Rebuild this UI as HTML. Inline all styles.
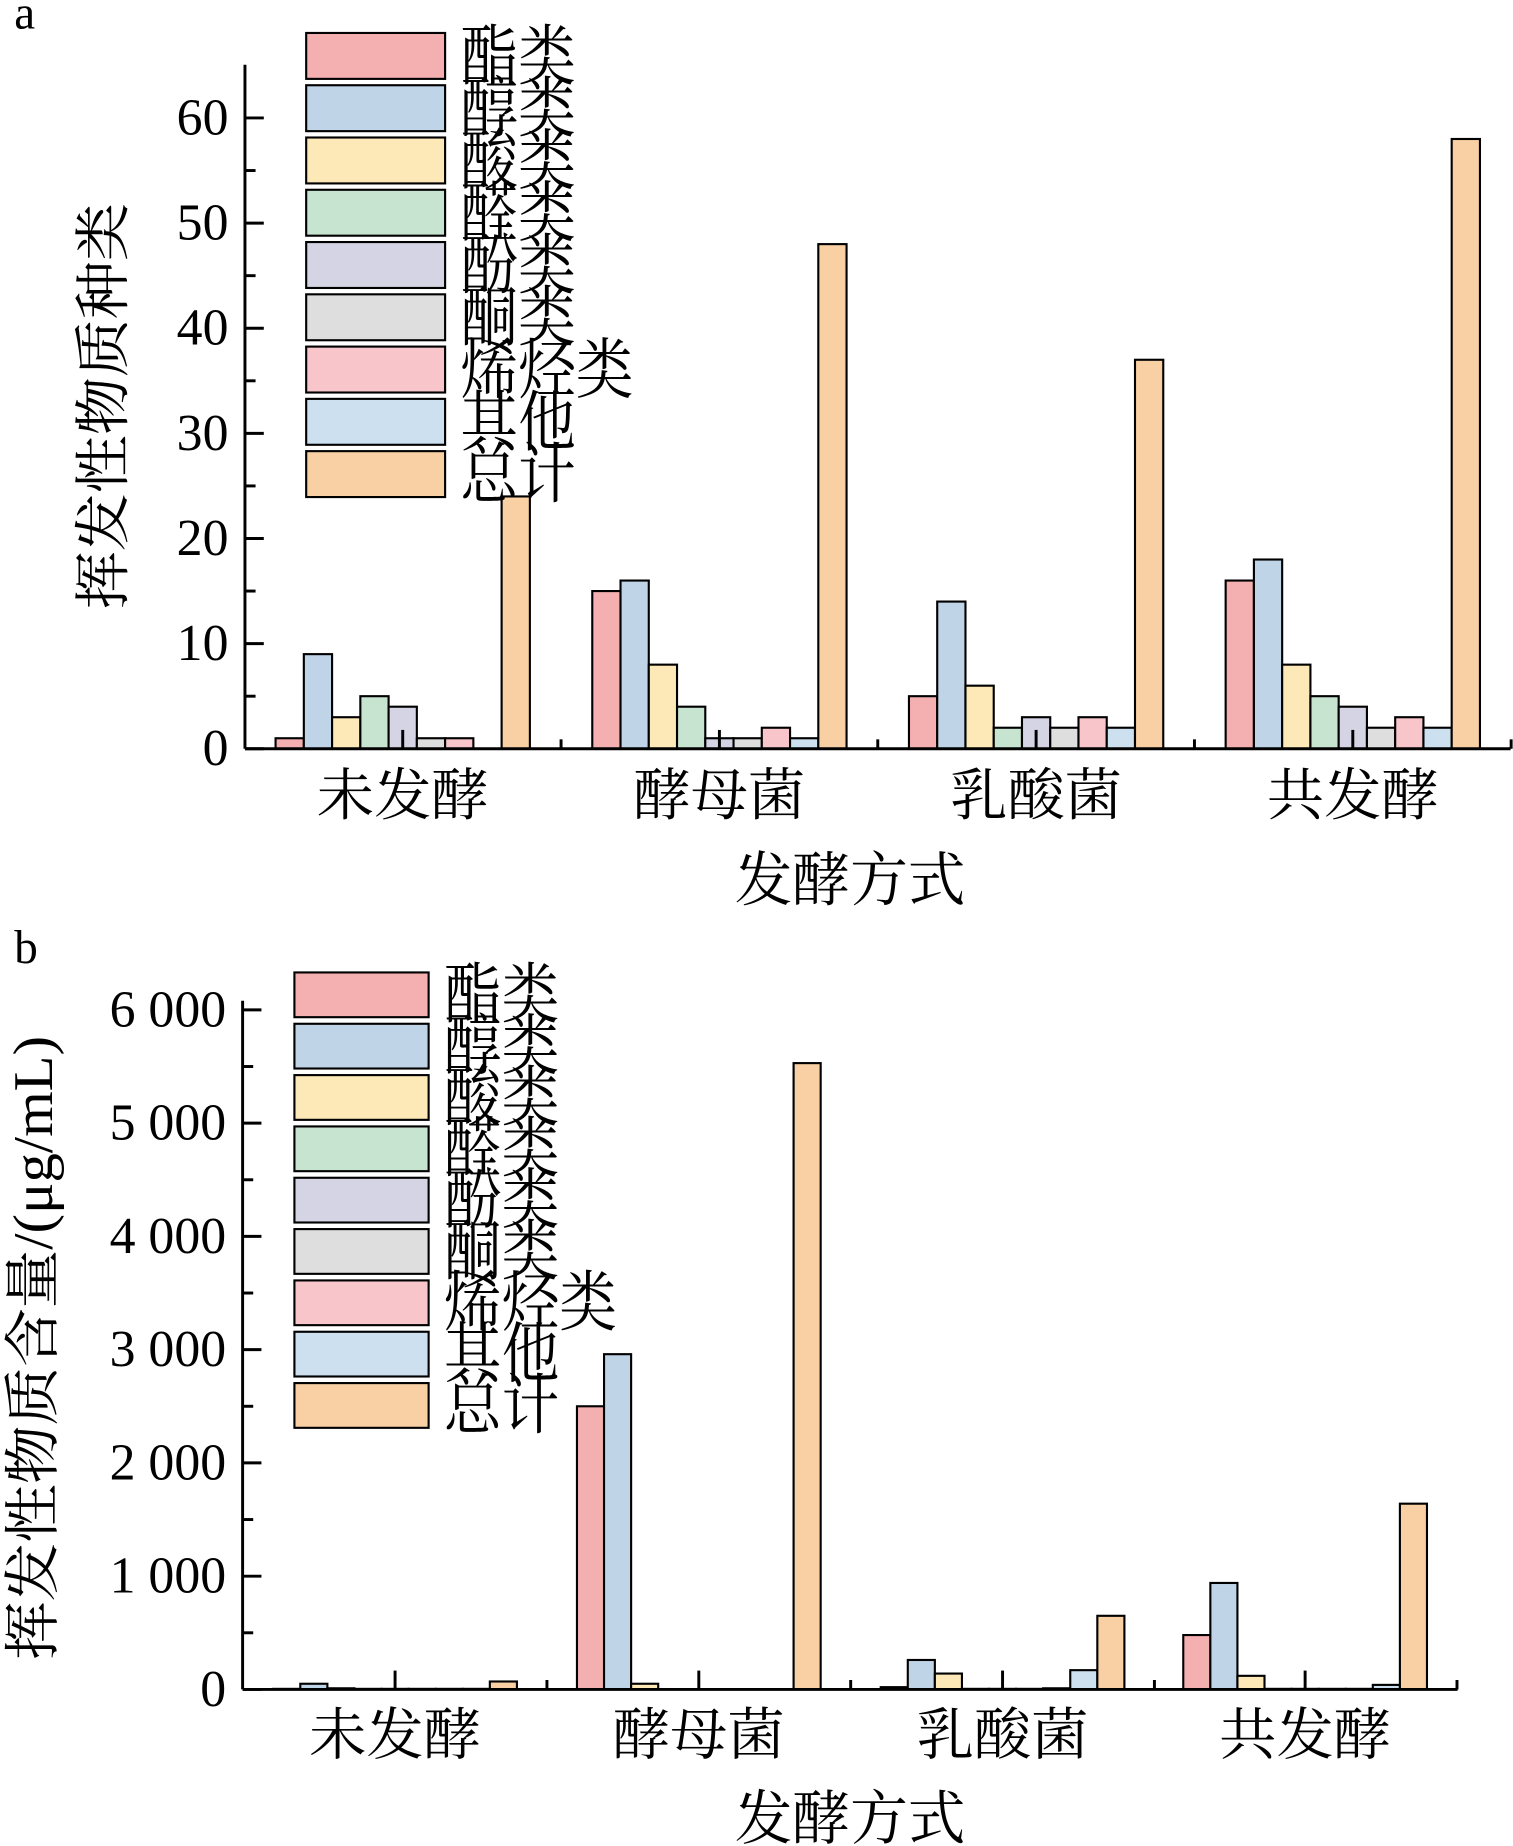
<!DOCTYPE html>
<html><head><meta charset="utf-8"><style>html,body{margin:0;padding:0;background:#fff}svg{display:block}</style></head>
<body>
<svg id="s" xmlns="http://www.w3.org/2000/svg" width="1513" height="1846" viewBox="0 0 1285 1568" font-family="'Liberation Serif','Noto Serif CJK SC',serif"></svg>
<script>
const s=document.getElementById('s');let h='';
const C=['#f4b0b0','#c0d4e8','#fde9b8','#c6e4d0','#d4d4e4','#dedede','#f8c6ca','#cce0f0','#f9d0a4'];
const L=['酯类','醇类','酸类','醛类','酚类','酮类','烯烃类','其他','总计'];
function chart(o){
 const {ax,y0,ytop,xend,scale,ticks,labs,starts,bw,data,legX,legY,legW,legH,legStep,cats,catY,titleY,ylab,ylx,yly,minor,ylen}=o;
 data.forEach((g,gi)=>g.forEach((v,i)=>{if(v<=0)return;const x=starts[gi]+i*bw;const hh=v*scale;
  h+=`<rect x="${x}" y="${y0-hh}" width="${bw}" height="${hh}" fill="${C[i]}" stroke="#000" stroke-width="1.8"/>`;}));
 h+=`<line x1="${ax}" y1="${ytop}" x2="${ax}" y2="${y0}" stroke="#000" stroke-width="2.5"/>`;
 h+=`<line x1="${ax}" y1="${y0}" x2="${xend}" y2="${y0}" stroke="#000" stroke-width="2.5"/>`;
 ticks.forEach((t,i)=>{const y=y0-t*scale;h+=`<line x1="${ax}" y1="${y}" x2="${ax+16}" y2="${y}" stroke="#000" stroke-width="2.5"/>`;
  h+=`<text x="${ax-14}" y="${y+14}" font-size="44" text-anchor="end">${labs[i]}</text>`;
  if(i<ticks.length-1){const ym=y0-(t+minor)*scale;h+=`<line x1="${ax}" y1="${ym}" x2="${ax+9}" y2="${ym}" stroke="#000" stroke-width="2.5"/>`;}});
 const gw=starts[1]-starts[0];
 starts.forEach((st,gi)=>{const c=st+4.5*bw;h+=`<line x1="${c}" y1="${y0}" x2="${c}" y2="${y0-16}" stroke="#000" stroke-width="2.5"/>`;
  const b=st+9*bw+(gw-9*bw)/2;h+=`<line x1="${b}" y1="${y0}" x2="${b}" y2="${y0-8}" stroke="#000" stroke-width="2.5"/>`;
  h+=`<text x="${c}" y="${catY}" font-size="48" text-anchor="middle" textLength="146" lengthAdjust="spacingAndGlyphs">${cats[gi]}</text>`;});
 h+=`<text x="${o.tx}" y="${titleY}" font-size="50" text-anchor="middle" textLength="196" lengthAdjust="spacingAndGlyphs">发酵方式</text>`;
 h+=`<text transform="translate(${ylx},${yly}) rotate(-90)" font-size="48" text-anchor="middle" textLength="${ylen}" lengthAdjust="spacingAndGlyphs">${ylab}</text>`;
 L.forEach((l,i)=>{const y=legY+i*legStep;h+=`<rect x="${legX}" y="${y}" width="${legW}" height="${legH}" fill="${C[i]}" stroke="#000" stroke-width="1.8"/>`;
  h+=`<text x="${legX+legW+13}" y="${y+legH}" font-size="50" textLength="${l.length*49}" lengthAdjust="spacingAndGlyphs" transform="translate(0,${-(y+legH)*0.12}) scale(1,1.12)">${l}</text>`;});
}
const cats=['未发酵','酵母菌','乳酸菌','共发酵'];
chart({ax:208,y0:636,ytop:55,xend:1283,scale:8.93,ticks:[0,10,20,30,40,50,60],labs:['0','10','20','30','40','50','60'],minor:5,
 starts:[234,503,772,1041],bw:24,data:[[1,9,3,5,4,1,1,0,24],[15,16,8,4,1,1,2,1,48],[5,14,6,2,3,2,3,2,37],[16,18,8,5,4,2,3,2,58]],
 legX:260,legY:28,legW:118,legH:39,legStep:44.4,cats,catY:692,titleY:765,tx:722,ylab:'挥发性物质种类',ylx:104,yly:345,ylen:345});
chart({ax:206,y0:1435,ytop:850,xend:1238,scale:0.0962,ticks:[0,1000,2000,3000,4000,5000,6000],labs:['0','1 000','2 000','3 000','4 000','5 000','6 000'],minor:500,
 starts:[232,490,748,1005],bw:23,data:[[5,50,10,5,5,5,5,5,70],[2500,2960,50,0,0,0,0,0,5530],[20,260,140,5,5,5,10,170,650],[480,940,120,5,5,5,5,40,1640]],
 legX:250,legY:826,legW:114,legH:38,legStep:43.6,cats,catY:1490,titleY:1562,tx:722,ylab:'挥发性物质含量/(μg/mL)',ylx:44,yly:1145,ylen:530});
h+=`<text x="12" y="24" font-size="40">a</text><text x="12" y="818" font-size="40">b</text>`;
s.innerHTML=h;
</script>
</body></html>
